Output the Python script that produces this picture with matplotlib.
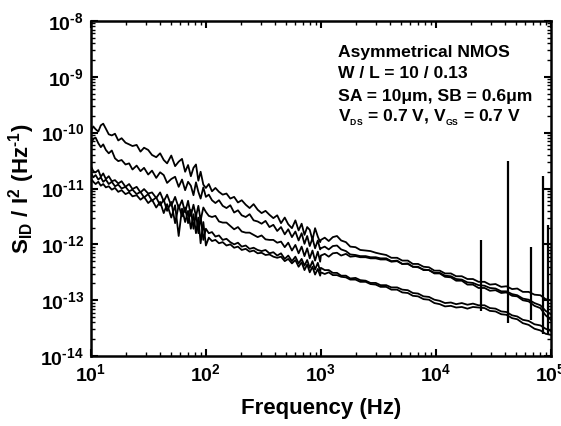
import numpy as np
import matplotlib
matplotlib.use('Agg')
import matplotlib.pyplot as plt
from matplotlib.ticker import FuncFormatter, LogLocator, NullFormatter

plt.rcParams['font.family'] = ['Liberation Sans', 'DejaVu Sans']
plt.rcParams['font.weight'] = 'bold'
plt.rcParams['mathtext.fontset'] = 'custom'
plt.rcParams['mathtext.rm'] = 'Liberation Sans:bold'
plt.rcParams['mathtext.bf'] = 'Liberation Sans:bold'
plt.rcParams['mathtext.it'] = 'Liberation Sans:bold'

# frequency grid (Hz)
freq = [10, 10.5, 11, 11.6, 12.2, 12.8, 13.5, 14.3, 15.2, 16.2,
        17.3, 18.5, 20, 21.5, 23, 25, 27, 29, 31.5, 34,
        37, 40, 43, 46, 50, 54, 58, 62, 66, 70,
        74, 78, 82, 86, 90, 95,
        100, 106, 113, 121, 130, 140, 151, 163, 176, 190,
        205, 222, 240, 260, 282, 305, 330, 357, 386, 417,
        450, 485, 520, 560, 600, 640, 680, 720, 760, 800,
        845, 890, 940, 985,
        1000, 1080, 1170, 1270, 1380, 1500, 1650, 1800, 2000, 2200,
        2450, 2700, 3000, 3300, 3700, 4100, 4600, 5100, 5700, 6300,
        7000, 7800, 8700, 9700, 10800, 12000, 13500, 15000, 16800, 18800,
        21000, 23500, 26500, 29500, 33000, 37000, 41000, 46000, 51000, 57000,
        64000, 72000, 81000, 90000, 100000]

# log10 of S_ID/I^2 for each trace
trace_a = [-9.97, -9.89, -9.94, -9.98, -9.87, -9.84, -9.93, -10.03, -10.05, -10.02,
           -10.14, -10.10, -10.18, -10.21, -10.24, -10.22, -10.34, -10.27, -10.31, -10.40,
           -10.44, -10.37, -10.49, -10.55, -10.41, -10.60, -10.52, -10.47, -10.70, -10.58,
           -10.78, -10.63, -10.57, -10.86, -10.70, -10.93,
           -10.99, -10.92, -11.05, -10.99, -11.06, -11.11, -11.09, -11.18, -11.15, -11.25,
           -11.21, -11.29, -11.35, -11.28, -11.38, -11.44, -11.40, -11.47, -11.53, -11.48,
           -11.62, -11.52, -11.64, -11.71, -11.57, -11.75, -11.63, -11.83, -11.69, -11.74,
           -11.92, -11.71, -11.86, -11.96,
           -11.92, -11.88, -11.94, -11.87, -11.85, -11.93, -11.96, -12.04, -12.05, -12.10,
           -12.11, -12.12, -12.15, -12.17, -12.19, -12.24, -12.24, -12.29, -12.29, -12.35,
           -12.35, -12.40, -12.41, -12.47, -12.47, -12.52, -12.52, -12.57, -12.57, -12.62,
           -12.62, -12.67, -12.67, -12.72, -12.71, -12.76, -12.75, -12.80, -12.79, -12.85,
           -12.85, -12.90, -12.91, -12.98, -13.00]

trace_b = [-10.22, -10.11, -10.09, -10.19, -10.26, -10.21, -10.31, -10.37, -10.32, -10.46,
           -10.51, -10.49, -10.57, -10.55, -10.66, -10.59, -10.69, -10.63, -10.75, -10.68,
           -10.81, -10.71, -10.76, -10.90, -10.83, -10.79, -10.97, -10.84, -11.03, -10.88,
           -10.95, -11.12, -10.89, -11.06, -11.18, -10.98,
           -11.15, -11.11, -11.21, -11.26, -11.21, -11.31, -11.35, -11.30, -11.43, -11.39,
           -11.48, -11.51, -11.46, -11.57, -11.59, -11.63, -11.58, -11.69, -11.65, -11.76,
           -11.69, -11.82, -11.73, -11.87, -11.77, -11.93, -11.80, -11.99, -11.85, -12.03,
           -11.89, -12.07, -11.93, -12.09,
           -12.07, -12.04, -12.09, -12.03, -12.02, -12.09, -12.12, -12.18, -12.19, -12.21,
           -12.21, -12.23, -12.23, -12.25, -12.25, -12.30, -12.29, -12.35, -12.34, -12.40,
           -12.40, -12.46, -12.46, -12.52, -12.52, -12.58, -12.59, -12.65, -12.65, -12.72,
           -12.72, -12.78, -12.78, -12.83, -12.82, -12.87, -12.86, -12.92, -12.93, -13.00,
           -13.02, -13.10, -13.14, -13.27, -13.35]

trace_m = [-10.60, -10.69, -10.71, -10.67, -10.79, -10.73, -10.83, -10.78, -10.87, -10.85,
           -10.91, -10.87, -10.97, -10.92, -11.01, -10.97, -11.07, -11.01, -11.09, -11.07,
           -11.17, -11.07, -11.23, -11.11, -11.31, -11.15, -11.35, -11.21, -11.43, -11.22,
           -11.49, -11.29, -11.50, -11.31, -11.57, -11.34,
           -11.42, -11.49, -11.51, -11.49, -11.59, -11.61, -11.61, -11.67, -11.73, -11.69,
           -11.77, -11.79, -11.79, -11.83, -11.87, -11.84, -11.91, -11.92, -11.92, -11.97,
           -11.95, -12.05, -11.97, -12.11, -12.01, -12.16, -12.04, -12.21, -12.07, -12.25,
           -12.11, -12.29, -12.13, -12.31,
           -12.20, -12.17, -12.22, -12.16, -12.15, -12.20, -12.17, -12.22, -12.21, -12.23,
           -12.23, -12.25, -12.25, -12.27, -12.27, -12.31, -12.30, -12.35, -12.35, -12.40,
           -12.41, -12.45, -12.46, -12.51, -12.51, -12.56, -12.57, -12.62, -12.63, -12.68,
           -12.69, -12.73, -12.74, -12.78, -12.79, -12.84, -12.84, -12.89, -12.91, -12.97,
           -12.99, -13.05, -13.09, -13.19, -13.25]

trace_c = [-10.72, -10.80, -10.76, -10.84, -10.80, -10.88, -10.84, -10.92, -10.88, -10.96,
           -10.93, -11.00, -10.97, -11.05, -11.02, -11.10, -11.06, -11.16, -11.10, -11.22,
           -11.16, -11.30, -11.20, -11.40, -11.24, -11.62, -11.30, -11.50, -11.34, -11.62,
           -11.38, -11.72, -11.44, -11.80, -11.50, -11.92,
           -11.72, -11.80, -11.78, -11.86, -11.84, -11.92, -11.90, -11.96, -12.00, -11.97,
           -12.04, -12.02, -12.08, -12.06, -12.10, -12.12, -12.10, -12.16, -12.14, -12.20,
           -12.16, -12.26, -12.20, -12.30, -12.22, -12.34, -12.26, -12.38, -12.28, -12.42,
           -12.30, -12.45, -12.33, -12.48,
           -12.42, -12.46, -12.46, -12.51, -12.51, -12.56, -12.56, -12.61, -12.60, -12.64,
           -12.65, -12.69, -12.69, -12.73, -12.73, -12.77, -12.77, -12.81, -12.82, -12.87,
           -12.88, -12.93, -12.94, -12.99, -13.01, -13.05, -13.04, -13.07, -13.05, -13.08,
           -13.06, -13.09, -13.09, -13.14, -13.15, -13.20, -13.21, -13.27, -13.29, -13.35,
           -13.37, -13.43, -13.45, -13.51, -13.55]

trace_d = [-10.82, -10.88, -10.92, -10.88, -10.95, -10.92, -10.98, -10.96, -11.02, -10.99,
           -11.06, -11.03, -11.10, -11.07, -11.14, -11.12, -11.20, -11.15, -11.26, -11.20,
           -11.34, -11.24, -11.44, -11.28, -11.52, -11.30, -11.85, -11.36, -11.60, -11.40,
           -11.72, -11.46, -11.80, -11.52, -11.98, -11.60,
           -12.02, -11.88, -11.94, -11.92, -11.98, -11.96, -12.02, -12.00, -12.06, -12.04,
           -12.10, -12.08, -12.13, -12.11, -12.16, -12.15, -12.19, -12.18, -12.22, -12.24,
           -12.22, -12.30, -12.26, -12.34, -12.28, -12.40, -12.32, -12.46, -12.36, -12.50,
           -12.40, -12.54, -12.44, -12.56,
           -12.50, -12.53, -12.50, -12.55, -12.55, -12.58, -12.59, -12.63, -12.63, -12.67,
           -12.67, -12.71, -12.72, -12.76, -12.76, -12.81, -12.81, -12.86, -12.87, -12.92,
           -12.93, -12.98, -12.99, -13.05, -13.07, -13.11, -13.10, -13.13, -13.12, -13.15,
           -13.12, -13.13, -13.14, -13.19, -13.20, -13.25, -13.26, -13.32, -13.34, -13.41,
           -13.44, -13.51, -13.54, -13.60, -13.62]

# narrow interference spikes
spike_freq = [24800, 42000, 66500, 84700, 94000]
spike_top = [-11.92, -10.51, -12.04, -10.78, -11.66]
spike_base = [-13.20, -13.41, -13.36, -13.60, -13.60]

fig = plt.figure(figsize=(5.61, 4.26), dpi=100)
ax = fig.add_axes([0.162, 0.164, 0.820, 0.787])

f = np.array(freq)
for tr in [trace_a, trace_b, trace_m, trace_c, trace_d]:
    ax.plot(f, 10 ** np.array(tr), color='black', lw=1.3)
ax.vlines(spike_freq, 10 ** np.array(spike_base), 10 ** np.array(spike_top),
          color='black', lw=1.6)

ax.set_xscale('log')
ax.set_yscale('log')
ax.set_xlim(10, 1e5)
ax.set_ylim(1e-14, 1e-8)


def pow_label(v, pos):
    e = int(round(np.log10(v)))
    if e < 0:
        return r'$\mathbf{10^{\text{-}%d}}$' % (-e)
    return r'$\mathbf{10^{%d}}$' % e


fmt = FuncFormatter(pow_label)
ax.xaxis.set_major_formatter(fmt)
ax.yaxis.set_major_formatter(fmt)
ax.xaxis.set_minor_locator(LogLocator(base=10, subs=np.arange(2, 10)))
ax.yaxis.set_minor_locator(LogLocator(base=10, subs=np.arange(2, 10)))
ax.xaxis.set_minor_formatter(NullFormatter())
ax.yaxis.set_minor_formatter(NullFormatter())

ax.tick_params(which='both', direction='in', top=True, right=True)
ax.tick_params(which='major', length=5, width=1.5, labelsize=14, pad=5)
ax.tick_params(which='minor', length=3, width=1)
for s in ax.spines.values():
    s.set_linewidth(1.8)

ax.set_xlabel('Frequency (Hz)', fontsize=16, fontweight='bold')
ax.xaxis.set_label_coords(0.5, -0.125)
ax.set_ylabel(r'$\mathbf{S_{ID}\ /\ I^{2}\ (Hz^{\text{-}1})}$', fontsize=16)
ax.yaxis.set_label_coords(-0.118, 0.5)

notes = ['Asymmetrical NMOS',
         'W / L = 10 / 0.13',
         'SA = 10\u03bcm, SB = 0.6\u03bcm',
         r'$\mathbf{V_{{}_{DS}}}$ = 0.7 V, $\mathbf{V_{{}_{GS}}}$ = 0.7 V']
note_y = [0.866, 0.817, 0.763, 0.714]
for txt, yy in zip(notes, note_y):
    fig.text(0.6025, yy, txt, fontsize=12.6, fontweight='bold', va='baseline')

fig.savefig('out.png', dpi=100)
